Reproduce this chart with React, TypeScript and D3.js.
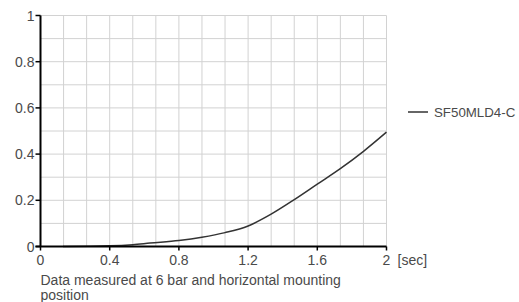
import React from "react";
import * as d3 from "d3";

// curve
const times = [0.13, 0.4, 0.533, 0.633, 0.8, 0.933, 1.067, 1.2, 1.333, 1.467, 1.6, 1.733, 1.867, 2];
const values = [0, 0.003, 0.008, 0.015, 0.026, 0.04, 0.06, 0.089, 0.14, 0.203, 0.27, 0.337, 0.412, 0.495];
const xTicks = [0, 0.4, 0.8, 1.2, 1.6, 2];
const yTicks = [0, 0.2, 0.4, 0.6, 0.8, 1];
const seriesName = "SF50MLD4-C";
const unitLabel = "[sec]";
const noteLines = ["Data measured at 6 bar and horizontal mounting", "position"];

export default function App() {
  const width = 519;
  const height = 302;
  const margin = { top: 15.5, left: 40.5, right: 132.5, bottom: 55.5 };
  const font = "'Liberation Sans', Arial, sans-serif";
  const textColor = "#4a4a4a";

  const x = d3.scaleLinear().domain([0, 2]).range([margin.left, width - margin.right]);
  const y = d3.scaleLinear().domain([0, 1]).range([height - margin.bottom, margin.top]);

  const xGrid = d3.range(0, 16).map((i) => (i * 2) / 15);
  const yGrid = d3.range(0, 11).map((i) => i / 10);

  const points = times.map((t, i) => [t, values[i]] as [number, number]);
  const line = d3
    .line<[number, number]>()
    .x((d) => x(d[0]))
    .y((d) => y(d[1]))
    .curve(d3.curveMonotoneX);

  return (
    <svg
      width={width}
      height={height}
      style={{ position: "absolute", left: 0, top: 0, fontFamily: font }}
    >
      {/* grid */}
      <g stroke="#d2d2d2" strokeWidth={1}>
        {xGrid.map((g) => (
          <line key={"x" + g} x1={x(g)} x2={x(g)} y1={y(1)} y2={y(0)} />
        ))}
        {yGrid.map((g) => (
          <line key={"y" + g} x1={x(0)} x2={x(2)} y1={y(g)} y2={y(g)} />
        ))}
      </g>

      {/* curve */}
      <path d={line(points) || ""} fill="none" stroke="#333" strokeWidth={1.5} />

      {/* y axis */}
      <g>
        <line x1={x(0)} x2={x(0)} y1={y(1)} y2={y(0)} stroke="#000" strokeWidth={2} />
        {yTicks.map((t) => (
          <g key={t}>
            <line x1={x(0) - 5} x2={x(0)} y1={y(t)} y2={y(t)} stroke="#000" strokeWidth={1.5} />
            <text
              x={x(0) - 6}
              y={y(t)}
              dy="0.36em"
              textAnchor="end"
              fontSize={14}
              fill={textColor}
            >
              {t}
            </text>
          </g>
        ))}
      </g>

      {/* x axis */}
      <g>
        <line x1={x(0) - 5} x2={x(2)} y1={y(0)} y2={y(0)} stroke="#000" strokeWidth={2} />
        {xTicks.map((t) => (
          <g key={t}>
            <line x1={x(t)} x2={x(t)} y1={y(0)} y2={y(0) + 4} stroke="#000" strokeWidth={1.5} />
            <text x={x(t)} y={y(0) + 18} textAnchor="middle" fontSize={14} fill={textColor}>
              {t}
            </text>
          </g>
        ))}
        <text x={x(2) + 11} y={y(0) + 18} fontSize={14} fill={textColor}>
          {unitLabel}
        </text>
      </g>

      {/* note */}
      {noteLines.map((s, i) => (
        <text key={i} x={x(0)} y={y(0) + 38.5 + i * 15} fontSize={14} fill={textColor}>
          {s}
        </text>
      ))}

      {/* legend */}
      <line x1={408} x2={428} y1={112} y2={112} stroke="#333" strokeWidth={1.5} />
      <text x={434} y={117} fontSize={13.3} fill={textColor}>
        {seriesName}
      </text>
    </svg>
  );
}
